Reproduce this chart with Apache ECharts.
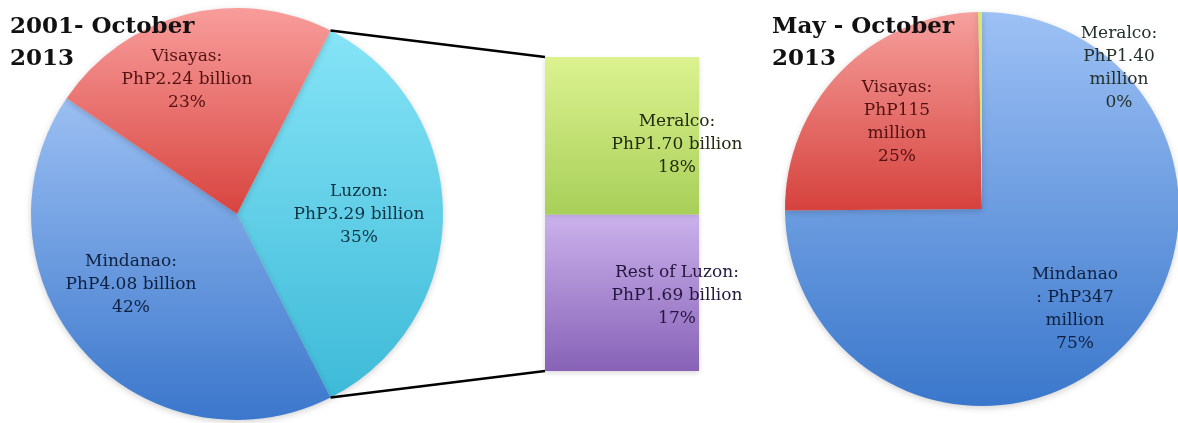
<!DOCTYPE html>
<html>
<head>
<meta charset="utf-8">
<script src="https://cdn.jsdelivr.net/npm/echarts@6/dist/echarts.min.js"></script>
<style>
  html, body { margin: 0; padding: 0; background: #fff; }
  #chart { width: 1178px; height: 423px; }
</style>
</head>
<body>
<div id="chart"></div>
<script>
// 2001 - October 2013: shares in percent, as printed on the slices
const leftNames = ['Luzon', 'Mindanao', 'Visayas']
const leftShares = [35, 42, 23]
const leftLabels = ['Luzon:\nPhP3.29 billion\n35%', 'Mindanao:\nPhP4.08 billion\n42%', 'Visayas:\nPhP2.24 billion\n23%']

// Luzon breakdown (billion PhP)
const luzonNames = ['Rest of Luzon', 'Meralco']
const luzonValues = [1.69, 1.70]
const luzonLabels = ['Rest of Luzon:\nPhP1.69 billion\n17%', 'Meralco:\nPhP1.70 billion\n18%']

// May - October 2013 (million PhP)
const rightNames = ['Mindanao', 'Visayas', 'Meralco']
const rightValues = [347, 115, 1.40]
const rightLabels = ['Mindanao\n: PhP347\nmillion\n75%', 'Visayas:\nPhP115\nmillion\n25%', 'Meralco:\nPhP1.40\nmillion\n0%']

const FONT = 'DejaVu Serif'

// layout
const leftPie = { cx: 237, cy: 214, r: 206, start: 63 }
const rightPie = { cx: 982, cy: 209, r: 197, start: 90 }
const barBox = { left: 545, top: 57, width: 154, height: 314 }

function grad(top, bottom) {
  return new echarts.graphic.LinearGradient(0, 0, 0, 1, [
    { offset: 0, color: top },
    { offset: 1, color: bottom }
  ])
}

const leftColors = [grad('#86e4f7', '#3dbad8'), grad('#9bbff2', '#3b77cc'), grad('#f89d9b', '#d8443f')]
const leftText = ['#0f3242', '#0e2040', '#521212']
const leftLabelPos = [[359, 215], [131, 285], [187, 80]]

const rightColors = [grad('#9dc1f5', '#3a77cb'), grad('#f6a09d', '#d6423d'), '#d8e86c']
const rightText = ['#0e2040', '#521212', '#24302a']
const rightLabelPos = [[1075, 309], [897, 122], [1119, 68]]

const barColors = [grad('#cbb2ec', '#8762b7'), grad('#dcf290', '#a8cf58')]
const barText = ['#24173c', '#222b12']

const labelStyle = { fontFamily: FONT, fontSize: 17, lineHeight: 23, align: 'center' }

const chart = echarts.init(document.getElementById('chart'))

const option = {
  animation: false,
  title: [
    {
      text: '2001- October\n2013', left: 10, top: 11, padding: 0,
      textStyle: { fontFamily: FONT, fontWeight: 'bold', fontSize: 23, lineHeight: 32, color: '#111' }
    },
    {
      text: 'May - October\n2013', left: 772, top: 11, padding: 0,
      textStyle: { fontFamily: FONT, fontWeight: 'bold', fontSize: 23, lineHeight: 32, color: '#111' }
    }
  ],
  grid: { left: barBox.left, top: barBox.top, width: barBox.width, height: barBox.height },
  xAxis: { type: 'category', data: ['Luzon'], show: false },
  yAxis: { type: 'value', min: 0, max: luzonValues[0] + luzonValues[1], show: false },
  series: [
    {
      type: 'pie', z: 1,
      center: [leftPie.cx, leftPie.cy], radius: leftPie.r,
      startAngle: leftPie.start, clockwise: true,
      avoidLabelOverlap: false,
      emphasis: { disabled: true },
      itemStyle: { shadowBlur: 6, shadowColor: 'rgba(0,0,0,0.18)', shadowOffsetY: 2 },
      label: { position: 'inside', ...labelStyle },
      labelLayout: p => ({ x: leftLabelPos[p.dataIndex][0], y: leftLabelPos[p.dataIndex][1], align: 'center', verticalAlign: 'middle' }),
      data: leftNames.map((n, i) => ({
        name: n, value: leftShares[i],
        itemStyle: { color: leftColors[i] },
        label: { formatter: leftLabels[i], color: leftText[i] }
      }))
    },
    {
      type: 'pie', z: 1,
      center: [rightPie.cx, rightPie.cy], radius: rightPie.r,
      startAngle: rightPie.start, clockwise: true,
      avoidLabelOverlap: false, minShowLabelAngle: 0,
      emphasis: { disabled: true },
      itemStyle: { shadowBlur: 6, shadowColor: 'rgba(0,0,0,0.18)', shadowOffsetY: 2 },
      label: { position: 'inside', ...labelStyle },
      labelLayout: p => ({ x: rightLabelPos[p.dataIndex][0], y: rightLabelPos[p.dataIndex][1], align: 'center', verticalAlign: 'middle' }),
      data: rightNames.map((n, i) => ({
        name: n, value: rightValues[i],
        itemStyle: { color: rightColors[i] },
        label: { show: true, formatter: rightLabels[i], color: rightText[i] }
      }))
    }
  ].concat(luzonNames.map((n, i) => ({
    type: 'bar', name: n, stack: 'luzon',
    barWidth: '100%',
    data: [luzonValues[i]],
    itemStyle: { color: barColors[i], shadowBlur: 5, shadowColor: 'rgba(0,0,0,0.15)', shadowOffsetY: 2 },
    emphasis: { disabled: true },
    label: {
      show: true, position: 'inside', offset: [55, i === 0 ? 3 : 9],
      formatter: luzonLabels[i], color: barText[i], ...labelStyle
    }
  })))
}

chart.setOption(option)

// connector lines from the Luzon slice edges to the bar corners
const total = leftShares.reduce((a, b) => a + b, 0)
const a0 = leftPie.start * Math.PI / 180
const a1 = (leftPie.start - 360 * leftShares[0] / total) * Math.PI / 180
const edge = a => [leftPie.cx + leftPie.r * Math.cos(a), leftPie.cy - leftPie.r * Math.sin(a)]
const p0 = edge(a0)
const p1 = edge(a1)
chart.setOption({
  graphic: [
    { type: 'line', z: 10, shape: { x1: p0[0], y1: p0[1], x2: barBox.left, y2: barBox.top }, style: { stroke: '#000', lineWidth: 2.5 } },
    { type: 'line', z: 10, shape: { x1: p1[0], y1: p1[1], x2: barBox.left, y2: barBox.top + barBox.height }, style: { stroke: '#000', lineWidth: 2.5 } }
  ]
})
</script>
</body>
</html>
